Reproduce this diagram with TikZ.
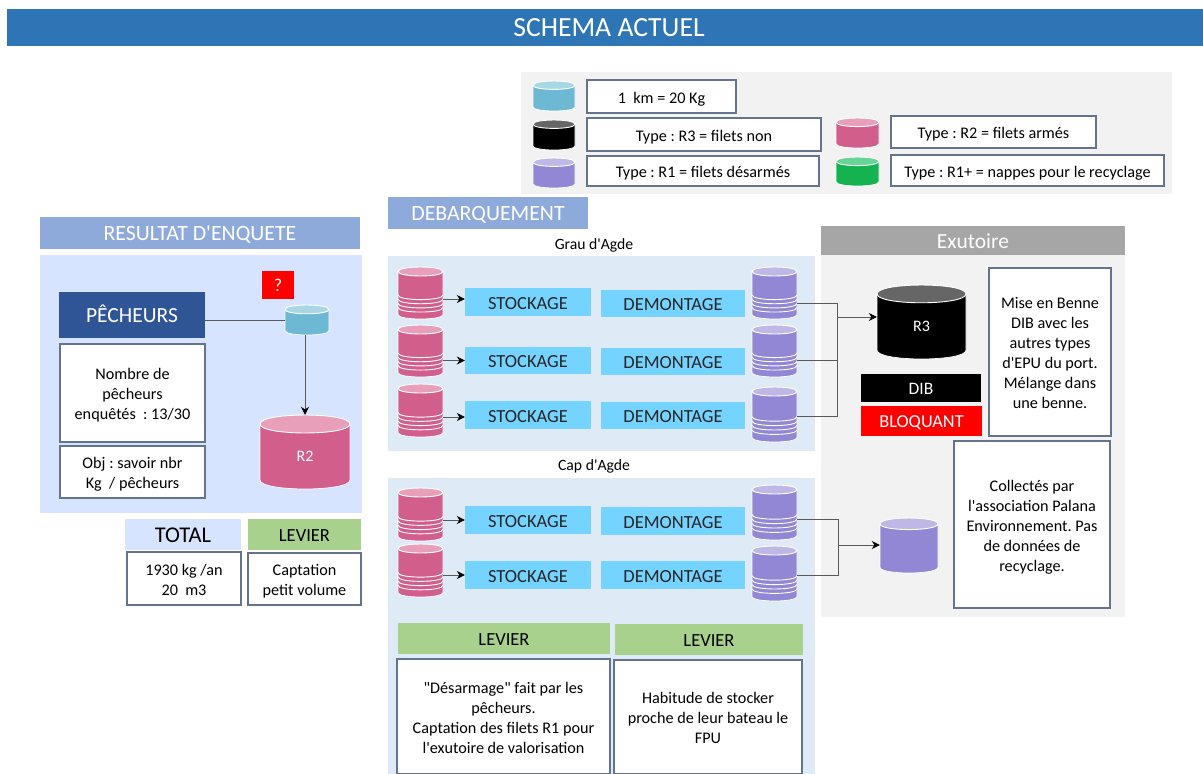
\documentclass[tikz,border=0pt]{standalone}
\usepackage{fontspec}
\setmainfont{Carlito}[Ligatures=TeXOff]
\usetikzlibrary{arrows.meta,calc}
\definecolor{titleblue}{HTML}{2E75B6}
\definecolor{headblue}{HTML}{8EAADB}
\definecolor{panelblue}{HTML}{D6E4FF}
\definecolor{panelsky}{HTML}{DEEBF7}
\definecolor{panelgray}{HTML}{F2F2F2}
\definecolor{headgray}{HTML}{A6A6A6}
\definecolor{navy}{HTML}{2F5597}
\definecolor{cyanbox}{HTML}{75D3FF}
\definecolor{leaf}{HTML}{A9D18E}
\definecolor{edgeblue}{HTML}{64738E}
\definecolor{wirec}{HTML}{595959}
\definecolor{pinkb}{HTML}{D25F8B}\definecolor{pinkt}{HTML}{E8A0BA}
\definecolor{purpb}{HTML}{9187D4}\definecolor{purpt}{HTML}{BFB8E6}
\definecolor{blueb}{HTML}{6DB8D2}\definecolor{bluet}{HTML}{A9D6E5}
\definecolor{blackt}{HTML}{666666}
\definecolor{greenb}{HTML}{14B350}\definecolor{greent}{HTML}{66D596}
\definecolor{alert}{HTML}{FF0000}
\frenchspacing
\tikzset{
  plainbox/.style={draw=none,inner sep=0pt,align=center,font=\fontsize{16.2}{20}\selectfont},
  textbox/.style={plainbox,draw=edgeblue,line width=1.1pt,fill=white},
  headbox/.style={plainbox,fill=headblue,text=white,font=\fontsize{21.8}{26}\selectfont},
  stockbox/.style={plainbox,fill=cyanbox,text=black!85,font=\fontsize{18.5}{22}\selectfont},
  leverhead/.style={plainbox,fill=leaf,font=\fontsize{18.5}{22}\selectfont},
  placelabel/.style={plainbox,font=\fontsize{15.7}{18}\selectfont},
  wire/.style={draw=wirec,line width=0.9pt},
  arrowwire/.style={wire,-{Stealth[length=8pt,width=8pt,color=black]}},
  cylmark/.style={draw=none,inner sep=0pt,text=white,font=\fontsize{16}{18}\selectfont}
}
\setlength{\tabcolsep}{0pt}
% \bx{name}{style}{x1}{y1}{x2}{y2}{text}
\newcommand{\bx}[7]{%
  \pgfmathsetmacro{\myBw}{#5-#3}\pgfmathsetmacro{\myBh}{#6-#4}%
  \pgfmathsetmacro{\myBx}{(#3+#5)/2}\pgfmathsetmacro{\myBy}{(#4+#6)/2}%
  \node[#2,minimum width=\myBw pt,minimum height=\myBh pt] (#1) at (\myBx,\myBy) {\vbox{\kern5.5pt\hbox{\begin{tabular}{c}#7\end{tabular}}}};}
% \cyl{name}{x1}{y1}{x2}{y2}{body}{top}{stripes 0/1}{label}
\newcommand{\cyl}[9]{%
  \pgfmathsetmacro{\myW}{#4-#2}\pgfmathsetmacro{\myH}{#5-#3}%
  \pgfmathsetmacro{\myR}{0.1*\myW}\pgfmathsetmacro{\myK}{1.33*\myR}%
  \pgfmathsetmacro{\myX}{(#2+#4)/2}\pgfmathsetmacro{\myY}{(#3+#5)/2}%
  \pgfmathsetmacro{\myT}{#3+\myR}\pgfmathsetmacro{\myB}{#5-\myR}%
  \fill[#6] (#2,\myT) -- (#2,\myB) .. controls (#2,\myB+\myK) and (#4,\myB+\myK) .. (#4,\myB) -- (#4,\myT) -- cycle;
  \draw[white,line width=0.7pt] (#2,\myT) -- (#2,\myB) .. controls (#2,\myB+\myK) and (#4,\myB+\myK) .. (#4,\myB) -- (#4,\myT);
  \draw[white,line width=0.9pt,fill=#7] (#2,\myT) .. controls (#2,\myT-\myK) and (#4,\myT-\myK) .. (#4,\myT) .. controls (#4,\myT+\myK) and (#2,\myT+\myK) .. (#2,\myT) -- cycle;
  \ifnum#8=1
    \foreach \myF in {0.54,0.62,0.70,0.78}{%
      \pgfmathsetmacro{\myS}{#3+\myF*\myH}%
      \draw[white,line width=0.9pt] (#2,\myS) .. controls (#2,\myS+\myK) and (#4,\myS+\myK) .. (#4,\myS);}
  \fi
  \pgfmathsetmacro{\myL}{\myY+\myR*0.5}%
  \node[cylmark,minimum width=\myW pt,minimum height=\myH pt] (#1) at (\myX,\myY) {};
  \node[cylmark] (#1-text) at (\myX,\myL) {#9};}
\begin{document}
\begin{tikzpicture}[x=1pt,y=-1pt]
\useasboundingbox (0,0) rectangle (1203,774);
\fill[white] (0,0) rectangle (1203,774);
% title
\bx{title}{plainbox,fill=titleblue,text=white,font=\fontsize{27.7}{32}\selectfont}{7}{9}{1203}{46}{\hspace{8pt}SCHEMA ACTUEL}
% legend
\bx{legend}{plainbox,fill=panelgray}{521}{72}{1172}{194}{}
\cyl{lb}{533}{81}{575}{111}{blueb}{bluet}{0}{}
\bx{lbt}{textbox}{587}{80}{736}{113}{1\ \ km = 20 Kg}
\cyl{lk}{533}{120}{575}{150}{black}{blackt}{0}{}
\bx{lkt}{textbox}{587}{118}{821}{151}{Type : R3 = filets non}
\cyl{lp}{533}{158}{575}{188}{purpb}{purpt}{0}{}
\bx{lpt}{textbox}{587}{156}{819}{186}{Type : R1 = filets désarmés}
\cyl{lr}{836}{118}{879}{148}{pinkb}{pinkt}{0}{}
\bx{lrt}{textbox}{891}{116}{1096}{148}{Type : R2 = filets armés}
\cyl{lg}{836}{157}{879}{186}{greenb}{greent}{0}{}
\bx{lgt}{textbox}{891}{155}{1164}{186}{Type : R1+ = nappes pour le recyclage}
% left column
\bx{reshead}{headbox}{40}{218}{360}{248}{RESULTAT D'ENQUETE}
\bx{respanel}{plainbox,fill=panelblue}{40}{255}{362}{513}{}
\bx{pech}{plainbox,fill=navy,text=white,font=\fontsize{21.5}{26}\selectfont}{59}{292}{205}{338}{PÊCHEURS}
\bx{nbp}{textbox}{60}{344}{205}{442}{Nombre de\\pêcheurs\\enquêtés\ \ : 13/30}
\bx{obj}{textbox}{60}{446}{205}{498}{Obj : savoir nbr\\Kg\ \ / pêcheurs}
\bx{q}{plainbox,fill=alert,text=white,font=\fontsize{18}{20}\selectfont}{262}{271}{294}{299}{?}
\cyl{sc}{285}{305}{329}{335}{blueb}{bluet}{0}{}
\cyl{r2}{260}{415}{350}{489}{pinkb}{pinkt}{0}{R2}
\draw[wire] (sc.west) -- (pech.east |- sc.west);
\draw[arrowwire] (sc.south -| r2.north) -- (r2.north);
\bx{total}{plainbox,fill=panelblue,font=\fontsize{22.5}{26}\selectfont}{125}{519}{241}{550}{TOTAL}
\bx{levl}{leverhead}{248}{519}{361}{550}{LEVIER}
\bx{totv}{textbox}{127}{552}{241}{605}{1930 kg /an\\20\ \ m3}
\bx{levv}{textbox}{248}{553}{361}{605}{Captation\\petit volume}
% debarquement
\bx{debh}{headbox}{388}{198}{588}{228}{DEBARQUEMENT}
\node[placelabel] (grau) at (594,245.5) {Grau d'Agde};
\bx{graup}{plainbox,fill=panelsky}{388}{256}{815}{451}{}
\node[placelabel] (cap) at (594,466.5) {Cap d'Agde};
\bx{capp}{plainbox,fill=panelsky}{388}{478}{815}{774}{}
% exutoire
\bx{exh}{plainbox,fill=headgray,text=white,font=\fontsize{21.5}{24}\selectfont}{821}{226}{1125}{255}{Exutoire}
\bx{exp}{plainbox,fill=panelgray}{821}{255}{1125}{617}{}
% Grau rows
\cyl{a1}{398}{267}{443}{319}{pinkb}{pinkt}{1}{}
\cyl{a2}{398}{325}{443}{377}{pinkb}{pinkt}{1}{}
\cyl{a3}{398}{384}{443}{437}{pinkb}{pinkt}{1}{}
\cyl{p1}{752}{267}{797}{319}{purpb}{purpt}{1}{}
\cyl{p2}{752}{325}{797}{377}{purpb}{purpt}{1}{}
\cyl{p3}{752}{387}{797}{442}{purpb}{purpt}{1}{}
\bx{s1}{stockbox}{465}{289}{591}{315}{STOCKAGE}
\bx{s2}{stockbox}{465}{348}{591}{373}{STOCKAGE}
\bx{s3}{stockbox}{465}{402}{591}{428}{STOCKAGE}
\bx{d1}{stockbox}{601}{290}{745}{317}{DEMONTAGE}
\bx{d2}{stockbox}{601}{349}{745}{374}{DEMONTAGE}
\bx{d3}{stockbox}{601}{402}{745}{429}{DEMONTAGE}
\draw[arrowwire] ([yshift=3pt]a1.east |- s1.west) -- ([yshift=3pt]s1.west);
\draw[arrowwire] (a2.east |- s2.west) -- (s2.west);
\draw[arrowwire] ([yshift=-2pt]a3.east |- s3.west) -- ([yshift=-2pt]s3.west);
% Cap rows
\cyl{b1}{398}{488}{443}{541}{pinkb}{pinkt}{1}{}
\cyl{b2}{398}{544}{443}{597}{pinkb}{pinkt}{1}{}
\cyl{q1}{752}{485}{797}{540}{purpb}{purpt}{1}{}
\cyl{q2}{752}{546}{797}{601}{purpb}{purpt}{1}{}
\bx{s4}{stockbox}{465}{507}{591}{533}{STOCKAGE}
\bx{s5}{stockbox}{465}{562}{591}{588}{STOCKAGE}
\bx{d4}{stockbox}{601}{508}{745}{534}{DEMONTAGE}
\bx{d5}{stockbox}{601}{562}{745}{588}{DEMONTAGE}
\draw[arrowwire] (b1.east |- s4.west) -- (s4.west);
\draw[arrowwire] (b2.east |- s5.west) -- (s5.west);
% exutoire content
\cyl{r3}{877}{285}{966}{359}{black}{blackt}{0}{R3}
\bx{dib}{plainbox,fill=black,text=white,font=\fontsize{17.5}{20}\selectfont}{861}{374}{981}{402}{DIB}
\bx{bloq}{plainbox,fill=alert,text=white,font=\fontsize{18.3}{20}\selectfont}{861}{406}{982}{436}{BLOQUANT}
\bx{mise}{textbox}{989}{268}{1111}{436}{Mise en Benne\\DIB avec les\\autres types\\d'EPU du port.\\Mélange dans\\une benne.}
\bx{coll}{textbox}{954}{441}{1110}{608}{Collectés par\\l'association Palana\\Environnement. Pas\\de données de\\recyclage.}
\cyl{r1}{880}{518}{938}{573}{purpb}{purpt}{0}{}
\coordinate (j1) at (837,317);
\coordinate (j2) at (838.5,545);
\draw[wire] ([yshift=-10pt]p1.east) -| (j1);
\draw[wire] ([yshift=-9pt]p2.east) -| (j1);
\draw[wire] ([yshift=-1.5pt]p3.east) -| (j1);
\draw[arrowwire] (j1) -- (r3.west |- j1);
\draw[wire] ([yshift=-6.5pt]q1.east) -| (j2);
\draw[wire] ([yshift=-1.5pt]q2.east) -| (j2);
\draw[arrowwire] (j2) -- (r1.west |- j2);
% levers
\bx{lev1}{leverhead}{398}{623}{610}{654}{LEVIER}
\bx{lev2}{leverhead}{615}{624}{803}{655}{LEVIER}
\bx{levt1}{textbox}{397}{659}{610}{774}{"Désarmage" fait par les\\pêcheurs.\\Captation des filets R1 pour\\l'exutoire de valorisation}
\bx{levt2}{textbox}{614}{660}{802}{774}{Habitude de stocker\\proche de leur bateau le\\FPU}
\end{tikzpicture}
\end{document}
